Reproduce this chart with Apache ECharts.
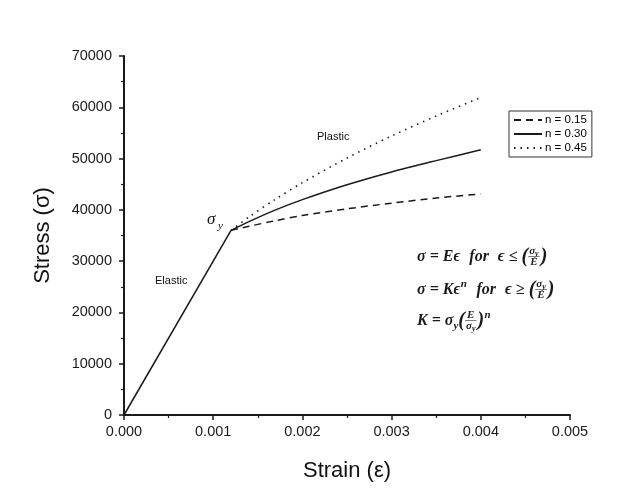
<!DOCTYPE html>
<html><head><meta charset="utf-8">
<script src="https://cdn.jsdelivr.net/npm/echarts@6/dist/echarts.min.js"></script>
<style>html,body{margin:0;padding:0;background:#fff}#c{width:644px;height:495px}</style>
</head><body><div id="c"></div>
<script>
// ---- data ----
const elasticStrain = [0, 0.0012];
const elasticStress = [0, 36000];
const plasticStrain = [0.0012, 0.0014, 0.0017, 0.002, 0.0025, 0.003, 0.0035, 0.004];
const stressN015 = [36000, 36800, 37900, 38900, 40200, 41300, 42300, 43100];
const stressN030 = [36000, 37700, 40000, 42000, 44900, 47400, 49600, 51700];
const stressN045 = [36000, 38600, 42100, 45300, 50100, 54400, 58300, 61900];
const seriesNames = ['n = 0.15', 'n = 0.30', 'n = 0.45'];
const xTicks = [0, 0.001, 0.002, 0.003, 0.004, 0.005];
const yTicks = [0, 10000, 20000, 30000, 40000, 50000, 60000, 70000];

const pairs = (xs, ys) => xs.map((x, i) => [x, ys[i]]);
const INK = '#1a1a1a';

// ---- math text helper (layout only) ----
const mctx = document.createElement('canvas').getContext('2d');
const FAM = '"Liberation Serif", "DejaVu Serif", serif';
function fnt(sz) { return 'italic bold ' + sz + 'px ' + FAM; }
function tw(s, sz) { mctx.font = fnt(sz); return mctx.measureText(s).width; }
function mathLine(x0, y, pieces) {
  const out = [];
  let x = x0;
  const MAIN = 16, SMALL = 11, TINY = 8, PAREN = 20;
  pieces.forEach(p => {
    if (p.t === 'txt') {
      out.push({type: 'text', x: x, y: y, style: {text: p.s, font: fnt(MAIN), fill: INK, textVerticalAlign: 'middle'}});
      x += tw(p.s, MAIN);
    } else if (p.t === 'par') {
      out.push({type: 'text', x: x, y: y, style: {text: p.s, font: fnt(PAREN), fill: INK, textVerticalAlign: 'middle'}});
      x += tw(p.s, PAREN);
    } else if (p.t === 'sub') {
      out.push({type: 'text', x: x, y: y + 5, style: {text: p.s, font: fnt(SMALL), fill: INK, textVerticalAlign: 'middle'}});
      x += tw(p.s, SMALL);
    } else if (p.t === 'sup') {
      out.push({type: 'text', x: x + 0.5, y: y - 6, style: {text: p.s, font: fnt(SMALL), fill: INK, textVerticalAlign: 'middle'}});
      x += tw(p.s, SMALL) + 1;
    } else if (p.t === 'frac') {
      const wn = tw(p.n, SMALL) + (p.ns ? tw(p.ns, TINY) : 0);
      const wd = tw(p.d, SMALL) + (p.ds ? tw(p.ds, TINY) : 0);
      const w = Math.max(wn, wd) + 2;
      const cx = x + w / 2;
      out.push({type: 'text', x: cx - wn / 2, y: y - 6, style: {text: p.n, font: fnt(SMALL), fill: INK, textVerticalAlign: 'middle'}});
      if (p.ns) out.push({type: 'text', x: cx - wn / 2 + tw(p.n, SMALL), y: y - 3.5, style: {text: p.ns, font: fnt(TINY), fill: INK, textVerticalAlign: 'middle'}});
      out.push({type: 'line', shape: {x1: x, y1: y - 0.5, x2: x + w, y2: y - 0.5}, style: {stroke: '#444', lineWidth: 0.7}});
      out.push({type: 'text', x: cx - wd / 2, y: y + 5.5, style: {text: p.d, font: fnt(SMALL), fill: INK, textVerticalAlign: 'middle'}});
      if (p.ds) out.push({type: 'text', x: cx - wd / 2 + tw(p.d, SMALL), y: y + 8, style: {text: p.ds, font: fnt(TINY), fill: INK, textVerticalAlign: 'middle'}});
      x += w + 1;
    } else if (p.t === 'sp') {
      x += p.w;
    }
  });
  return out;
}

const formulas = []
  .concat(mathLine(417, 257, [
    {t: 'txt', s: 'σ = Eϵ'}, {t: 'sp', w: 9}, {t: 'txt', s: 'for'}, {t: 'sp', w: 9},
    {t: 'txt', s: 'ϵ ≤ '}, {t: 'par', s: '('}, {t: 'frac', n: 'σ', ns: 'y', d: 'E'}, {t: 'par', s: ')'}
  ]))
  .concat(mathLine(417, 290, [
    {t: 'txt', s: 'σ = Kϵ'}, {t: 'sup', s: 'n'}, {t: 'sp', w: 9}, {t: 'txt', s: 'for'}, {t: 'sp', w: 9},
    {t: 'txt', s: 'ϵ ≥ '}, {t: 'par', s: '('}, {t: 'frac', n: 'σ', ns: 'y', d: 'E'}, {t: 'par', s: ')'}
  ]))
  .concat(mathLine(417, 321, [
    {t: 'txt', s: 'K = σ'}, {t: 'sub', s: 'y'}, {t: 'par', s: '('}, {t: 'frac', n: 'E', d: 'σ', ds: 'y'},
    {t: 'par', s: ')'}, {t: 'sup', s: 'n'}
  ]));

const chart = echarts.init(document.getElementById('c'), null, {renderer: 'canvas'});
const axisCommon = {
  axisLine: {show: true, onZero: false, lineStyle: {color: INK, width: 2}},
  axisTick: {show: true, inside: false, length: 5, lineStyle: {color: INK, width: 1.5}},
  minorTick: {show: true, splitNumber: 2, length: 3, lineStyle: {color: INK, width: 1.2}},
  splitLine: {show: false},
  axisLabel: {color: '#1a1a1a', fontFamily: 'Liberation Sans, Arial, sans-serif', fontSize: 14.5},
  nameTextStyle: {color: '#111', fontFamily: 'Liberation Sans, Arial, sans-serif', fontSize: 22}
};

chart.setOption({
  animation: false,
  backgroundColor: '#ffffff',
  grid: {left: 124, right: 74, top: 56, bottom: 80, containLabel: false},
  xAxis: Object.assign({}, axisCommon, {
    type: 'value', min: xTicks[0], max: xTicks[xTicks.length - 1], interval: 0.001,
    name: 'Strain (ε)', nameLocation: 'middle', nameGap: 45,
    axisLabel: Object.assign({}, axisCommon.axisLabel, {margin: 9, formatter: v => v.toFixed(3)})
  }),
  yAxis: Object.assign({}, axisCommon, {
    type: 'value', min: yTicks[0], max: yTicks[yTicks.length - 1], interval: 10000,
    name: 'Stress (σ)', nameLocation: 'middle', nameGap: 70, nameRotate: 90,
    axisLabel: Object.assign({}, axisCommon.axisLabel, {margin: 12, formatter: v => String(v)})
  }),
  legend: {
    data: seriesNames, orient: 'vertical', left: 509, top: 111,
    borderColor: '#333', borderWidth: 1, borderRadius: 0, padding: [3, 5, 3, 4],
    itemGap: 2, itemWidth: 28, itemHeight: 11, backgroundColor: '#fff',
    itemStyle: {opacity: 0, borderWidth: 0},
    textStyle: {color: '#000', fontSize: 11.5, fontFamily: 'Liberation Sans, Arial, sans-serif', padding: [0, 0, 0, -2]}
  },
  series: [
    {name: 'elastic', type: 'line', data: pairs(elasticStrain, elasticStress), showSymbol: false, symbol: 'none',
     lineStyle: {color: INK, width: 1.5}, itemStyle: {color: INK}, z: 3},
    {name: seriesNames[0], type: 'line', data: pairs(plasticStrain, stressN015), smooth: 0.3, showSymbol: false, symbol: 'none',
     lineStyle: {color: INK, width: 1.5, type: [7, 5]}, itemStyle: {color: INK}},
    {name: seriesNames[1], type: 'line', data: pairs(plasticStrain, stressN030), smooth: 0.3, showSymbol: false, symbol: 'none',
     lineStyle: {color: INK, width: 1.5}, itemStyle: {color: INK}},
    {name: seriesNames[2], type: 'line', data: pairs(plasticStrain, stressN045), smooth: 0.3, showSymbol: false, symbol: 'none',
     lineStyle: {color: INK, width: 1.6, type: [1.5, 5]}, itemStyle: {color: INK}}
  ],
  graphic: [
    {type: 'text', x: 317, y: 137, style: {text: 'Plastic', font: '11px "Liberation Sans", Arial, sans-serif', fill: '#111', textVerticalAlign: 'middle'}},
    {type: 'text', x: 155, y: 281, style: {text: 'Elastic', font: '11px "Liberation Sans", Arial, sans-serif', fill: '#111', textVerticalAlign: 'middle'}},
    {type: 'text', x: 207, y: 220, style: {text: 'σ', font: 'italic 17px ' + FAM, fill: '#111', textVerticalAlign: 'middle'}},
    {type: 'text', x: 218, y: 226, style: {text: 'y', font: 'italic 11px ' + FAM, fill: '#111', textVerticalAlign: 'middle'}}
  ].concat(formulas)
});
</script>
</body></html>
